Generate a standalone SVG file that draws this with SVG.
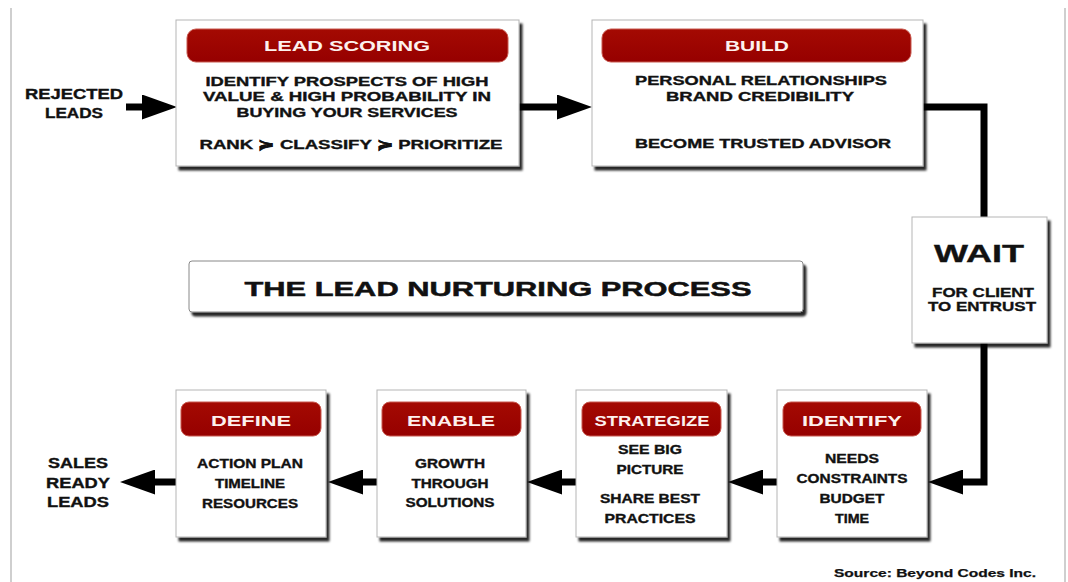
<svg xmlns="http://www.w3.org/2000/svg" width="1068" height="582" viewBox="0 0 1068 582">
<defs>
<filter id="sh" x="-10%" y="-10%" width="125%" height="130%">
<feDropShadow dx="3" dy="4" stdDeviation="1.3" flood-color="#000" flood-opacity="0.85"/>
</filter>
<linearGradient id="rg" x1="0" y1="0" x2="0" y2="1">
<stop offset="0" stop-color="#a40a02"/>
<stop offset="1" stop-color="#960000"/>
</linearGradient>
<marker id="ah" viewBox="0 0 35 25" refX="0" refY="12.5" markerUnits="userSpaceOnUse" markerWidth="35" markerHeight="25" orient="auto">
<path d="M0,0 L35,12.5 L0,25 Z" fill="#000"/>
</marker>
</defs>
<style>
.box{fill:#fff;stroke:#b5b5b5;stroke-width:1;filter:url(#sh)}
.hdr{fill:url(#rg);stroke:#c8584e;stroke-width:1}
.ht{font-family:"Liberation Sans",Arial,sans-serif;font-weight:bold;font-size:14px;fill:#fdf1ee;text-anchor:middle}
.t{font-family:"Liberation Sans",Arial,sans-serif;font-weight:bold;font-size:12.5px;fill:#111;text-anchor:middle;stroke:#111;stroke-width:0.35}
.lbl{font-family:"Liberation Sans",Arial,sans-serif;font-weight:bold;font-size:14px;fill:#111;text-anchor:middle;stroke:#111;stroke-width:0.35}
.con{fill:none;stroke:#000;stroke-width:7;stroke-linejoin:miter}
.border{stroke:#cfcfcf;stroke-width:2}
</style>
<rect width="1068" height="582" fill="#fff"/>
<line class="border" x1="11" y1="8" x2="11" y2="582"/>
<line class="border" x1="1065" y1="8" x2="1065" y2="582"/>

<g id="connectors">
<path class="con" d="M126,107 H142" marker-end="url(#ah)"/>
<path class="con" d="M519,107 H557" marker-end="url(#ah)"/>
<path class="con" d="M923,107 H984 V218"/>
<path class="con" d="M984,342 V482 H963" marker-end="url(#ah)"/>
<path class="con" d="M777,482 H763" marker-end="url(#ah)"/>
<path class="con" d="M576,482 H562" marker-end="url(#ah)"/>
<path class="con" d="M377,482 H363" marker-end="url(#ah)"/>
<path class="con" d="M176,482 H155" marker-end="url(#ah)"/>
</g>

<g id="rejected-leads">
<text class="lbl" x="74" y="99" textLength="98" lengthAdjust="spacingAndGlyphs">REJECTED</text>
<text class="lbl" x="74" y="118" textLength="58" lengthAdjust="spacingAndGlyphs">LEADS</text>
</g>

<g id="lead-scoring">
<rect class="box" x="176" y="20" width="343" height="146"/>
<rect class="hdr" x="187" y="29" width="321" height="33" rx="9"/>
<text class="ht" x="347" y="51" textLength="166" lengthAdjust="spacingAndGlyphs">LEAD SCORING</text>
<text class="t" x="347" y="86" textLength="283" lengthAdjust="spacingAndGlyphs">IDENTIFY PROSPECTS OF HIGH</text>
<text class="t" x="347" y="101" textLength="288" lengthAdjust="spacingAndGlyphs">VALUE &amp; HIGH PROBABILITY IN</text>
<text class="t" x="347" y="117" textLength="221" lengthAdjust="spacingAndGlyphs">BUYING YOUR SERVICES</text>
<text class="t" x="351" y="149" textLength="303" lengthAdjust="spacingAndGlyphs">RANK ≽ CLASSIFY ≽ PRIORITIZE</text>
</g>

<g id="build">
<rect class="box" x="592" y="20" width="331" height="146"/>
<rect class="hdr" x="602" y="29" width="309" height="33" rx="9"/>
<text class="ht" x="757" y="51" textLength="64" lengthAdjust="spacingAndGlyphs">BUILD</text>
<text class="t" x="761" y="85" textLength="252" lengthAdjust="spacingAndGlyphs">PERSONAL RELATIONSHIPS</text>
<text class="t" x="760" y="101" textLength="188" lengthAdjust="spacingAndGlyphs">BRAND CREDIBILITY</text>
<text class="t" x="763" y="148" textLength="256" lengthAdjust="spacingAndGlyphs">BECOME TRUSTED ADVISOR</text>
</g>

<g id="wait">
<rect class="box" x="912" y="217" width="135" height="126"/>
<text class="lbl" x="979" y="262" style="font-size:24px" textLength="90" lengthAdjust="spacingAndGlyphs">WAIT</text>
<text class="t" x="983" y="297" style="font-size:13.5px" textLength="102" lengthAdjust="spacingAndGlyphs">FOR CLIENT</text>
<text class="t" x="982" y="311" style="font-size:13.5px" textLength="108" lengthAdjust="spacingAndGlyphs">TO ENTRUST</text>
</g>

<g id="title">
<rect class="box" x="189" y="261" width="614" height="51" rx="3" style="filter:url(#sh);stroke:#888"/>
<text class="lbl" x="498" y="296" style="font-size:21px;stroke-width:0.5" textLength="507" lengthAdjust="spacingAndGlyphs">THE LEAD NURTURING PROCESS</text>
</g>

<g id="identify">
<rect class="box" x="777" y="390" width="150" height="147"/>
<rect class="hdr" x="783" y="402" width="138" height="34" rx="8"/>
<text class="ht" x="852" y="426" textLength="100" lengthAdjust="spacingAndGlyphs">IDENTIFY</text>
<text class="t" x="852" y="463" textLength="54" lengthAdjust="spacingAndGlyphs">NEEDS</text>
<text class="t" x="852" y="483" textLength="111" lengthAdjust="spacingAndGlyphs">CONSTRAINTS</text>
<text class="t" x="852" y="503" textLength="65" lengthAdjust="spacingAndGlyphs">BUDGET</text>
<text class="t" x="852" y="523" textLength="34" lengthAdjust="spacingAndGlyphs">TIME</text>
</g>

<g id="strategize">
<rect class="box" x="576" y="390" width="151" height="147"/>
<rect class="hdr" x="582" y="402" width="139" height="34" rx="8"/>
<text class="ht" x="652" y="426" textLength="115" lengthAdjust="spacingAndGlyphs">STRATEGIZE</text>
<text class="t" x="650" y="454" textLength="64" lengthAdjust="spacingAndGlyphs">SEE BIG</text>
<text class="t" x="650" y="474" textLength="67" lengthAdjust="spacingAndGlyphs">PICTURE</text>
<text class="t" x="650" y="503" textLength="100" lengthAdjust="spacingAndGlyphs">SHARE BEST</text>
<text class="t" x="650" y="523" textLength="91" lengthAdjust="spacingAndGlyphs">PRACTICES</text>
</g>

<g id="enable">
<rect class="box" x="377" y="390" width="149" height="147"/>
<rect class="hdr" x="382" y="402" width="139" height="34" rx="8"/>
<text class="ht" x="451" y="426" textLength="88" lengthAdjust="spacingAndGlyphs">ENABLE</text>
<text class="t" x="450" y="468" textLength="70" lengthAdjust="spacingAndGlyphs">GROWTH</text>
<text class="t" x="450" y="488" textLength="77" lengthAdjust="spacingAndGlyphs">THROUGH</text>
<text class="t" x="450" y="507" textLength="89" lengthAdjust="spacingAndGlyphs">SOLUTIONS</text>
</g>

<g id="define">
<rect class="box" x="176" y="390" width="150" height="147"/>
<rect class="hdr" x="181" y="402" width="140" height="34" rx="8"/>
<text class="ht" x="251" y="426" textLength="80" lengthAdjust="spacingAndGlyphs">DEFINE</text>
<text class="t" x="250" y="468" textLength="106" lengthAdjust="spacingAndGlyphs">ACTION PLAN</text>
<text class="t" x="250" y="488" textLength="70" lengthAdjust="spacingAndGlyphs">TIMELINE</text>
<text class="t" x="250" y="508" textLength="96" lengthAdjust="spacingAndGlyphs">RESOURCES</text>
</g>

<g id="sales-ready-leads">
<text class="lbl" x="78" y="468" textLength="60" lengthAdjust="spacingAndGlyphs">SALES</text>
<text class="lbl" x="78" y="488" textLength="64" lengthAdjust="spacingAndGlyphs">READY</text>
<text class="lbl" x="78" y="507" textLength="62" lengthAdjust="spacingAndGlyphs">LEADS</text>
</g>

<text x="935" y="577" style="font-family:'Liberation Sans',Arial,sans-serif;font-weight:bold;font-size:11px;fill:#111;text-anchor:middle;stroke:#111;stroke-width:0.25" textLength="202" lengthAdjust="spacingAndGlyphs">Source: Beyond Codes Inc.</text>
</svg>
